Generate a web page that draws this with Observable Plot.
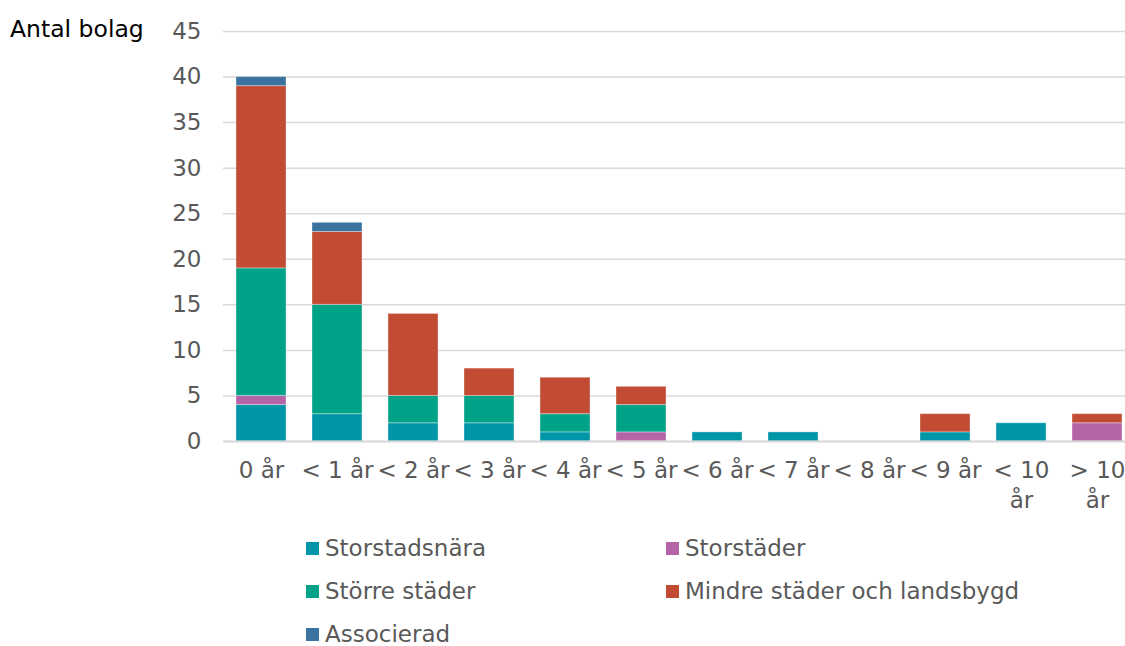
<!DOCTYPE html>
<html><head><meta charset="utf-8">
<script src="https://cdn.jsdelivr.net/npm/d3@7"></script>
<script src="https://cdn.jsdelivr.net/npm/@observablehq/plot@0.6"></script>
<style>
body{margin:0;background:#fff;font-family:"DejaVu Sans",Verdana,sans-serif;}
#wrap{position:relative;width:1125px;height:646px;}
#ylab{position:absolute;left:10px;top:17px;font-size:23.5px;color:#000;line-height:1.1;}
#legend{position:absolute;left:306px;top:527px;display:grid;grid-template-columns:360px 360px;row-gap:0;}
.item{display:flex;align-items:center;height:43px;font-size:23px;line-height:1;color:#595959;}
.sw{width:13px;height:13px;margin-right:6px;}
</style></head>
<body><div id="wrap"><div id="chart"></div><div id="ylab">Antal bolag</div><div id="legend"></div></div>
<script>
const categories = ["0 år","< 1 år","< 2 år","< 3 år","< 4 år","< 5 år","< 6 år","< 7 år","< 8 år","< 9 år","< 10 år","> 10 år"];
const tickLabels = ["0 år","< 1 år","< 2 år","< 3 år","< 4 år","< 5 år","< 6 år","< 7 år","< 8 år","< 9 år","< 10\når","> 10\når"];
const seriesNames = ["Storstadsnära","Storstäder","Större städer","Mindre städer och landsbygd","Associerad"];
const seriesColors = ["#0096A8","#B564A8","#00A387","#C24B33","#3A73A0"];
const storstadsnara = [4,3,2,2,1,0,1,1,0,1,2,0];
const storstader    = [1,0,0,0,0,1,0,0,0,0,0,2];
const storreStader  = [14,12,3,3,2,3,0,0,0,0,0,0];
const mindreStader  = [20,8,9,3,4,2,0,0,0,2,0,1];
const associerad    = [1,1,0,0,0,0,0,0,0,0,0,0];
const yTicks = [0,5,10,15,20,25,30,35,40,45];

const seriesValues = [storstadsnara, storstader, storreStader, mindreStader, associerad];
const data = [];
seriesNames.forEach((s, si) => categories.forEach((c, ci) => {
  data.push({category: c, series: s, value: seriesValues[si][ci]});
}));
const labelMap = new Map(categories.map((c, i) => [c, tickLabels[i]]));

const chart = Plot.plot({
  width: 1125,
  height: 525,
  marginLeft: 223,
  marginRight: 0,
  marginTop: 31,
  marginBottom: 84,
  style: {fontFamily: '"DejaVu Sans",Verdana,sans-serif', background: "#fff"},
  x: {domain: categories, range: [223, 1135], paddingInner: 0.34, paddingOuter: 0.17},
  y: {domain: [0, 45]},
  color: {domain: seriesNames, range: seriesColors},
  marks: [
    Plot.gridY(yTicks, {stroke: "#d9d9d9", strokeOpacity: 1, strokeWidth: 1.5}),
    Plot.barY(data, {x: "category", y: "value", fill: "series", order: seriesNames, stroke: "#ffffff", strokeOpacity: 0.35, strokeWidth: 1}),
    Plot.ruleY([0], {stroke: "#d9d9d9", strokeWidth: 2}),
    Plot.axisY(yTicks, {tickSize: 0, tickPadding: 22, fontSize: 23, fill: "#595959", label: null}),
    Plot.axisX({tickSize: 0, tickPadding: 15, fontSize: 23, fill: "#595959", label: null, lineHeight: 1.3,
      tickFormat: d => labelMap.get(d)})
  ]
});
document.getElementById("chart").appendChild(chart);

const legend = document.getElementById("legend");
seriesNames.forEach((s, i) => {
  const d = document.createElement("div");
  d.className = "item";
  d.innerHTML = `<span class="sw" style="background:${seriesColors[i]}"></span><span>${s}</span>`;
  legend.appendChild(d);
});
</script></body></html>
